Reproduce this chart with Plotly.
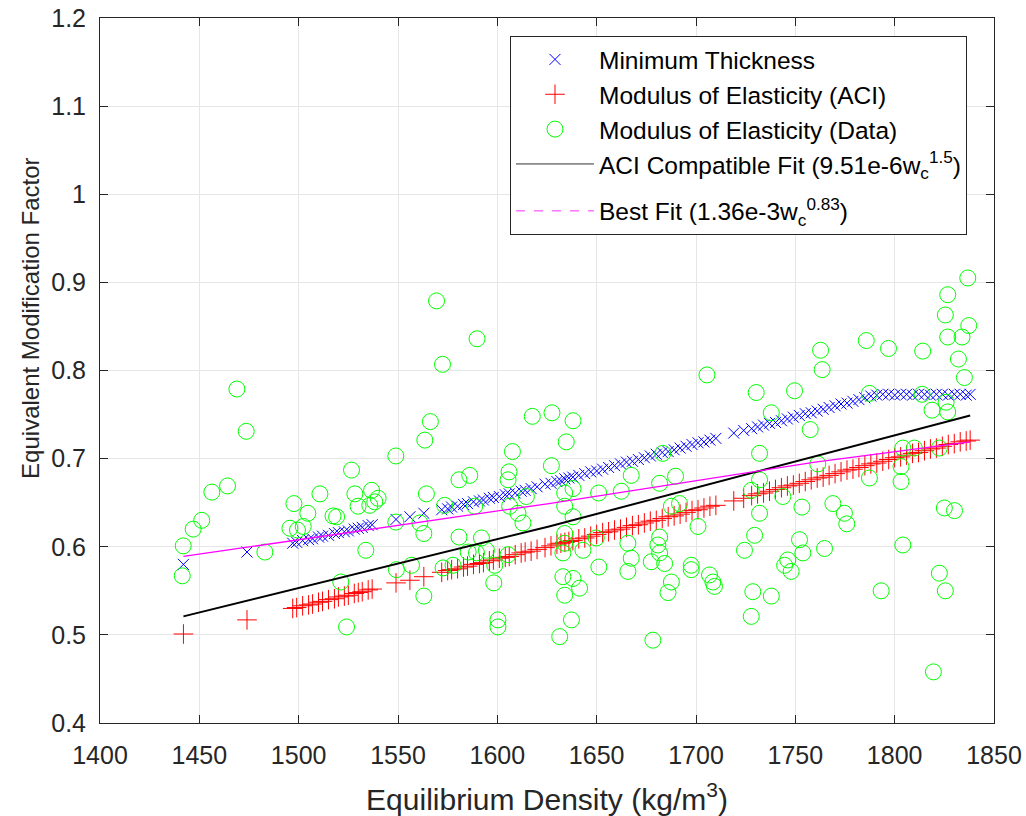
import plotly.graph_objects as go

# ---- data ----
density = [
    1442, 1474, 1497, 1499, 1502, 1505, 1507, 1510, 1512, 1515,
    1518, 1520, 1523, 1525, 1528, 1530, 1532, 1535, 1537, 1549,
    1556, 1563, 1572, 1575, 1577, 1580, 1583, 1585, 1588, 1591,
    1593, 1596, 1598, 1601, 1604, 1606, 1609, 1612, 1614, 1617,
    1620, 1624, 1627, 1630, 1632, 1634, 1636, 1638, 1641, 1644,
    1647, 1650, 1653, 1656, 1659, 1662, 1665, 1668, 1671, 1674,
    1677, 1680, 1683, 1686, 1689, 1692, 1695, 1698, 1701, 1704,
    1707, 1710, 1719, 1724, 1728, 1731, 1734, 1737, 1740, 1743,
    1746, 1749, 1752, 1755, 1758, 1761, 1764, 1767, 1770, 1773,
    1776, 1779, 1782, 1785, 1788, 1791, 1794, 1797, 1800, 1803,
    1806, 1809, 1812, 1815, 1818, 1821, 1824, 1827, 1830, 1833,
    1836, 1838,
]

min_thickness = [
    0.580, 0.594, 0.604, 0.605, 0.607, 0.608, 0.609, 0.611, 0.612, 0.613,
    0.615, 0.616, 0.617, 0.618, 0.620, 0.621, 0.622, 0.624, 0.625, 0.631,
    0.634, 0.638, 0.642, 0.643, 0.645, 0.646, 0.648, 0.649, 0.651, 0.652,
    0.653, 0.655, 0.656, 0.657, 0.659, 0.660, 0.661, 0.663, 0.664, 0.666,
    0.668, 0.671, 0.672, 0.674, 0.675, 0.677, 0.678, 0.679, 0.681, 0.683,
    0.685, 0.686, 0.688, 0.690, 0.692, 0.694, 0.696, 0.697, 0.699, 0.701,
    0.703, 0.705, 0.707, 0.708, 0.710, 0.712, 0.714, 0.716, 0.718, 0.719,
    0.721, 0.723, 0.729, 0.732, 0.734, 0.736, 0.738, 0.740, 0.741, 0.743,
    0.745, 0.747, 0.749, 0.751, 0.752, 0.754, 0.756, 0.758, 0.760, 0.762,
    0.763, 0.765, 0.767, 0.769, 0.771, 0.772, 0.773, 0.773, 0.772, 0.773,
    0.773, 0.772, 0.773, 0.773, 0.772, 0.773, 0.773, 0.772, 0.773, 0.773,
    0.772, 0.773,
]

moe_aci = [
    0.501, 0.517, 0.530, 0.531, 0.533, 0.534, 0.535, 0.537, 0.538, 0.540,
    0.541, 0.543, 0.544, 0.545, 0.547, 0.548, 0.549, 0.551, 0.552, 0.559,
    0.562, 0.566, 0.571, 0.573, 0.574, 0.575, 0.577, 0.578, 0.580, 0.581,
    0.582, 0.584, 0.585, 0.587, 0.588, 0.589, 0.591, 0.593, 0.594, 0.595,
    0.597, 0.599, 0.601, 0.603, 0.604, 0.605, 0.606, 0.607, 0.609, 0.610,
    0.612, 0.614, 0.616, 0.617, 0.619, 0.620, 0.622, 0.624, 0.625, 0.627,
    0.629, 0.630, 0.632, 0.634, 0.635, 0.637, 0.639, 0.641, 0.642, 0.644,
    0.646, 0.647, 0.652, 0.655, 0.658, 0.660, 0.661, 0.663, 0.665, 0.667,
    0.669, 0.670, 0.672, 0.674, 0.676, 0.678, 0.679, 0.681, 0.683, 0.685,
    0.687, 0.688, 0.690, 0.692, 0.694, 0.695, 0.697, 0.699, 0.701, 0.702,
    0.704, 0.706, 0.707, 0.709, 0.711, 0.712, 0.714, 0.716, 0.717, 0.719,
    0.720, 0.721,
]

data_density = [
    1441.9, 1441.4, 1446.9, 1451.2, 1456.3, 1464.2, 1468.9, 1473.6, 1483.0, 1497.6,
    1495.6, 1499.4, 1502.3, 1504.6, 1510.7, 1517.3, 1519.1, 1526.6, 1528.3, 1529.9,
    1536.7, 1538.3, 1540.0, 1535.8, 1533.8, 1521.2, 1524.1, 1548.9, 1548.9, 1549.2,
    1556.8, 1563.5, 1566.3, 1569.4, 1572.4, 1564.3, 1563.0, 1561.0, 1573.5, 1563.0,
    1572.7, 1577.7, 1580.7, 1580.7, 1589.8, 1586.1, 1588.6, 1592.0, 1585.3, 1589.5,
    1598.7, 1598.2, 1594.5, 1600.3, 1600.3, 1617.6, 1627.5, 1638.1, 1634.7, 1607.6,
    1627.2, 1605.9, 1605.4, 1614.6, 1606.2, 1610.4, 1612.9, 1605.4, 1633.9, 1638.1,
    1633.9, 1638.1, 1633.9, 1633.0, 1633.9, 1643.1, 1651.0, 1649.8, 1651.1, 1633.0,
    1638.1, 1641.4, 1633.9, 1637.3, 1631.4, 1705.5, 1730.3, 1683.3, 1667.4, 1689.7,
    1681.7, 1662.4, 1691.7, 1687.6, 1732.0, 1732.0, 1727.8, 1701.0, 1665.7, 1681.7,
    1680.8, 1681.7, 1667.4, 1677.5, 1684.2, 1665.7, 1697.6, 1697.6, 1706.8, 1708.5,
    1709.3, 1687.6, 1685.9, 1724.4, 1729.5, 1728.6, 1727.8, 1678.3, 1732.0, 1749.6,
    1762.7, 1763.5, 1785.7, 1796.9, 1787.3, 1737.9, 1757.5, 1761.3, 1787.3, 1804.1,
    1803.2, 1803.2, 1743.7, 1753.3, 1768.9, 1774.7, 1775.9, 1752.1, 1753.8, 1764.7,
    1746.2, 1747.9, 1744.6, 1737.9, 1793.2, 1804.1, 1836.8, 1826.7, 1825.5, 1837.3,
    1826.7, 1833.9, 1814.1, 1832.1, 1835.1, 1813.8, 1818.8, 1826.7, 1825.9, 1809.9,
    1822.5, 1825.0, 1830.1, 1822.5, 1825.5, 1819.5,
]

moe_data = [
    0.601, 0.567, 0.620, 0.630, 0.662, 0.669, 0.779, 0.731, 0.594, 0.649,
    0.621, 0.619, 0.623, 0.638, 0.660, 0.635, 0.634, 0.687, 0.660, 0.646,
    0.664, 0.651, 0.655, 0.647, 0.596, 0.560, 0.509, 0.703, 0.628, 0.574,
    0.579, 0.721, 0.742, 0.879, 0.807, 0.660, 0.615, 0.627, 0.647, 0.544,
    0.576, 0.579, 0.676, 0.611, 0.836, 0.681, 0.646, 0.610, 0.594, 0.593,
    0.579, 0.559, 0.596, 0.517, 0.509, 0.748, 0.752, 0.743, 0.719, 0.708,
    0.692, 0.685, 0.676, 0.657, 0.646, 0.638, 0.627, 0.591, 0.661, 0.666,
    0.646, 0.634, 0.615, 0.593, 0.604, 0.596, 0.661, 0.610, 0.577, 0.566,
    0.564, 0.553, 0.545, 0.517, 0.498, 0.795, 0.775, 0.706, 0.681, 0.680,
    0.672, 0.663, 0.649, 0.646, 0.676, 0.706, 0.664, 0.623, 0.604, 0.611,
    0.602, 0.593, 0.587, 0.583, 0.581, 0.572, 0.579, 0.574, 0.568, 0.560,
    0.555, 0.560, 0.548, 0.596, 0.613, 0.549, 0.521, 0.494, 0.638, 0.777,
    0.823, 0.801, 0.834, 0.825, 0.774, 0.752, 0.733, 0.694, 0.678, 0.712,
    0.691, 0.674, 0.657, 0.645, 0.649, 0.638, 0.626, 0.608, 0.593, 0.598,
    0.585, 0.572, 0.579, 0.544, 0.550, 0.602, 0.905, 0.886, 0.863, 0.851,
    0.838, 0.838, 0.822, 0.813, 0.792, 0.773, 0.755, 0.753, 0.764, 0.712,
    0.712, 0.644, 0.641, 0.570, 0.550, 0.458,
]

aci_fit_x = [1442, 1626, 1838]
aci_fit_y = [0.521, 0.623, 0.749]

best_fit_x = [1442, 1626, 1760, 1838]
best_fit_y = [0.589, 0.649, 0.696, 0.719]

x_ticks = [1400, 1450, 1500, 1550, 1600, 1650, 1700, 1750, 1800, 1850]
y_ticks = [0.4, 0.5, 0.6, 0.7, 0.8, 0.9, 1.0, 1.1, 1.2]
y_tick_text = ["0.4", "0.5", "0.6", "0.7", "0.8", "0.9", "1", "1.1", "1.2"]

FONT = "Liberation Sans, Arial, sans-serif"
AX = "#262626"

fig = go.Figure()

fig.add_trace(go.Scatter(
    x=density, y=min_thickness, mode="markers", name="Minimum Thickness",
    legendgroup="a",
    marker=dict(symbol="x-thin", size=11, line=dict(color="#0000ff", width=1), color="#0000ff"),
))
fig.add_trace(go.Scatter(
    x=density, y=moe_aci, mode="markers", name="Modulus of Elasticity (ACI)",
    legendgroup="a",
    marker=dict(symbol="cross-thin", size=14, line=dict(color="#ff0000", width=1), color="#ff0000"),
))
fig.add_trace(go.Scatter(
    x=data_density, y=moe_data, mode="markers", name="Modulus of Elasticity (Data)",
    legendgroup="a",
    marker=dict(symbol="circle-open", size=16, line=dict(color="#00ff00", width=1), color="#00ff00"),
))
fig.add_trace(go.Scatter(
    x=aci_fit_x, y=aci_fit_y, mode="lines", showlegend=False,
    line=dict(color="#000000", width=2),
))
fig.add_trace(go.Scatter(
    x=best_fit_x, y=best_fit_y, mode="lines", showlegend=False,
    line=dict(color="#ff00ff", width=1.3),
))
# legend entries for the two fit lines
fig.add_trace(go.Scatter(
    x=[None], y=[None], mode="lines", legendgroup="a",
    name="ACI Compatible Fit (9.51e-6w<sub>c</sub><sup>1.5</sup>)",
    line=dict(color="#333333", width=1),
))
fig.add_trace(go.Scatter(
    x=[None], y=[None], mode="lines", legendgroup="b",
    name="Best Fit (1.36e-3w<sub>c</sub><sup>0.83</sup>)",
    line=dict(color="#ff77ff", width=1.5, dash="dash"),
))

axis_common = dict(
    showline=True, linecolor=AX, linewidth=1, mirror="ticks",
    ticks="inside", ticklen=8, tickcolor=AX, tickwidth=1,
    showgrid=True, gridcolor="#e6e6e6", gridwidth=1,
    zeroline=False, automargin=False,
    tickfont=dict(family=FONT, size=25, color=AX),
)

fig.update_layout(
    width=1026, height=816,
    margin=dict(l=100, r=32, t=18, b=93),
    paper_bgcolor="white", plot_bgcolor="white",
    font=dict(family=FONT, color=AX),
    xaxis=dict(
        range=[1400, 1850], tickvals=x_ticks,
        title=dict(text="Equilibrium Density (kg/m<sup>3</sup>)",
                   font=dict(family=FONT, size=30, color=AX), standoff=27),
        ticklabelstandoff=10,
        **axis_common,
    ),
    yaxis=dict(
        range=[0.4, 1.2], tickvals=y_ticks, ticktext=y_tick_text,
        ticklabelstandoff=8,
        **axis_common,
    ),
    legend=dict(
        x=0.4586, y=0.9745, xanchor="left", yanchor="top",
        bgcolor="white", bordercolor=AX, borderwidth=1,
        font=dict(family=FONT, size=24.5, color="#000000"),
        itemwidth=78, tracegroupgap=12,
    ),
    showlegend=True,
    annotations=[dict(
        text="Equivalent Modification Factor",
        xref="paper", yref="paper",
        x=-0.078, y=0.575, xanchor="center", yanchor="middle",
        textangle=-90, showarrow=False,
        font=dict(family=FONT, size=24, color=AX),
    )],
)

fig.write_html("out.html")
